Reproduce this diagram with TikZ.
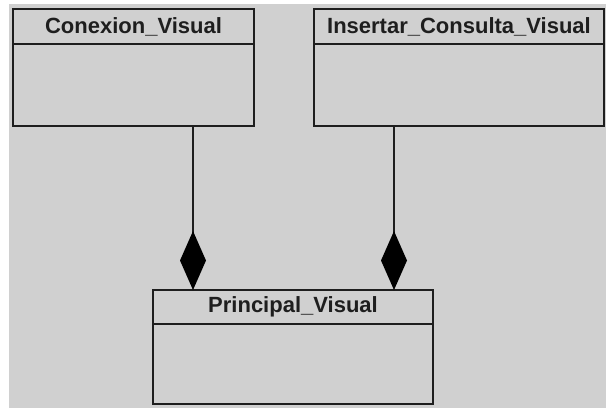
\documentclass[tikz,border=0pt]{standalone}
\usepackage{fontspec}
\setmainfont{Liberation Sans}
\usetikzlibrary{arrows.meta}
\definecolor{bggray}{RGB}{208,208,208}
\definecolor{ink}{RGB}{30,30,30}
\begin{document}
\begin{tikzpicture}[x=1pt,y=-1pt,
  cell/.style={draw=ink, line width=2pt, anchor=north west, inner sep=0pt, outer sep=0pt},
  head/.style={cell, font=\fontsize{22}{26}\selectfont\bfseries, text=ink},
  comp/.style={draw=ink, line width=2pt, -{Diamond[length=59pt,width=26pt,fill=black,line width=0pt]}}]
\useasboundingbox (0,0) rectangle (606,408);
\fill[white] (0,0) rectangle (606,408);
\fill[bggray] (9,4) rectangle (606,408);
% Conexion_Visual
\node[head, minimum width=241pt, minimum height=35pt] (h1) at (13,9) {Conexion\_Visual};
\node[cell, minimum width=241pt, minimum height=82pt] (b1) at (13,44) {};
% Insertar_Consulta_Visual
\node[head, minimum width=290pt, minimum height=35pt] (h2) at (314,9) {Insertar\_Consulta\_Visual};
\node[cell, minimum width=290pt, minimum height=82pt] (b2) at (314,44) {};
% Principal_Visual
\node[head, minimum width=280pt, minimum height=34pt] (h3) at (153,290) {Principal\_Visual};
\node[cell, minimum width=280pt, minimum height=80pt] (b3) at (153,324) {};
\coordinate (x1) at (193,0);
\coordinate (x2) at (394,0);
\draw[comp] (b1.south -| x1) -- (h3.north -| x1);
\draw[comp] (b2.south -| x2) -- (h3.north -| x2);
\end{tikzpicture}
\end{document}
